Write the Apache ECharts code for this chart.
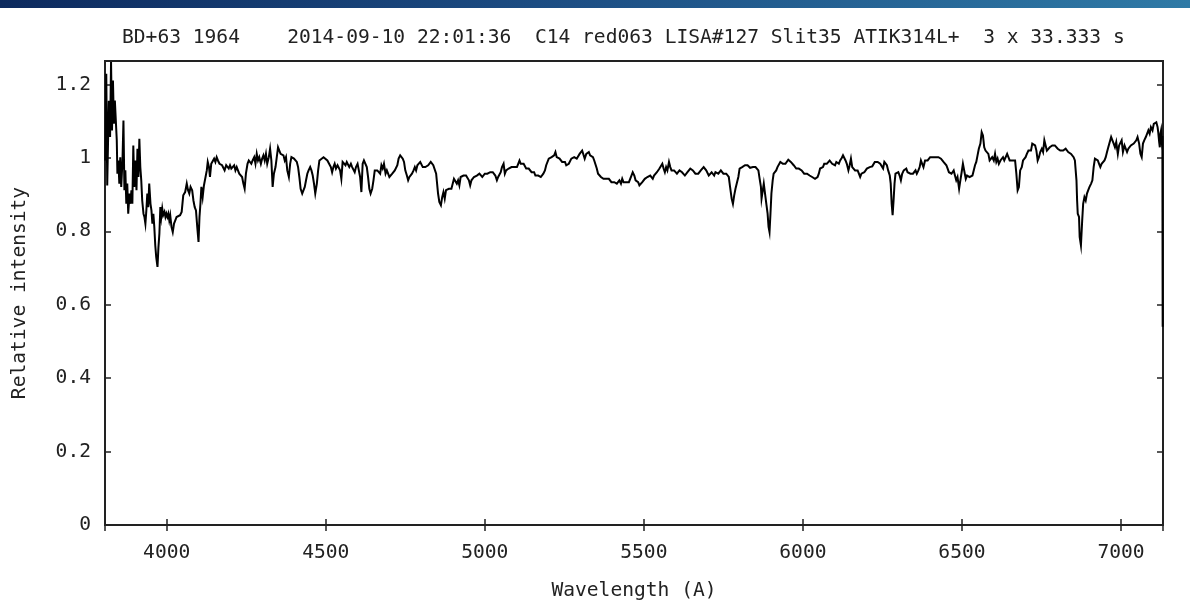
<!DOCTYPE html>
<html>
<head>
<meta charset="utf-8">
<title>BD+63 1964 spectrum</title>
<script src="https://cdn.jsdelivr.net/npm/echarts@6/dist/echarts.min.js"></script>
<style>
  html, body { margin: 0; padding: 0; background: #ffffff; }
  #chart { width: 1190px; height: 603px; }
</style>
</head>
<body>
<div id="chart"></div>
<script>
// Spectrum of BD+63 1964: [wavelength (A), relative intensity], split by region.
const specBlue = [
  [3807,0.993],[3810,1.229],[3813,0.925],[3818,1.156],[3822,1.057],[3825,1.261],[3828,1.075],[3831,1.211],
  [3834,1.093],[3837,1.156],[3840,1.102],[3843,1.048],[3845,0.957],[3848,0.993],[3851,0.930],[3854,1.002],
  [3857,0.921],[3861,0.993],[3864,1.102],[3867,0.912],[3870,0.966],[3873,0.875],[3876,0.930],[3879,0.848],
  [3883,0.903],[3886,0.875],[3889,0.912],[3892,0.875],[3895,1.034],[3898,0.921],[3901,0.993],[3905,0.912],
  [3908,1.025],[3911,0.948],[3914,1.052],[3917,0.975],[3920,0.939],[3923,0.884],[3927,0.848],[3930,0.839],
  [3933,0.821],[3936,0.857],[3939,0.903],[3942,0.866],[3945,0.930],[3949,0.875],[3952,0.857],[3955,0.821],
  [3958,0.848],[3961,0.812],[3964,0.762],[3967,0.730],[3971,0.703],[3974,0.757],[3977,0.794],[3980,0.866],
  [3983,0.839],[3986,0.862],[3989,0.844],[3993,0.853],[3996,0.839],[3999,0.848],[4002,0.839],[4005,0.848],
  [4008,0.830],[4011,0.844],[4015,0.812],[4019,0.798],[4023,0.821],[4027,0.830],[4031,0.839],[4037,0.834],
  [4042,0.844],[4047,0.853],[4052,0.898],[4058,0.907],[4063,0.930],[4067,0.912],[4071,0.903],[4075,0.921],
  [4080,0.912],[4084,0.884],[4088,0.866],[4092,0.857],[4096,0.812],[4100,0.771],[4103,0.839],[4106,0.875],
  [4109,0.921],[4113,0.893],[4117,0.925],[4122,0.930],[4126,0.966],[4129,0.989],[4133,0.975],[4136,0.948],
  [4140,0.984],[4145,0.989],[4149,0.998],[4153,0.989],[4157,1.002],[4161,0.993],[4166,0.984],[4170,0.989],
  [4174,0.980],[4178,0.975],[4182,0.966],[4187,0.980],[4191,0.975],[4195,0.971],[4199,0.980],[4203,0.971],
  [4207,0.975],[4212,0.980],[4216,0.966],[4220,0.975],[4224,0.971],[4228,0.957],[4233,0.952],[4237,0.948],
  [4241,0.930],[4245,0.916],[4249,0.957],[4254,0.984],[4258,0.993],[4262,0.998],[4266,0.984],[4270,0.993],
  [4275,1.002],[4279,0.984],[4283,1.011],[4287,0.993],[4291,1.002],[4296,0.984],[4300,0.998],[4304,1.007],
  [4308,0.993],[4312,1.011],[4316,0.984],[4321,1.002],[4325,1.025],[4329,0.993],[4333,0.921],[4337,0.957],
  [4342,0.975],[4346,1.002],[4350,1.029],[4354,1.020],[4358,1.011],[4363,1.016],[4367,1.007],[4371,0.993],
  [4375,1.002],[4379,0.966],[4384,0.948],[4388,0.984],[4392,1.002],[4396,1.007],[4400,0.998],[4405,1.002],
  [4409,0.989],[4413,0.975],[4417,0.948],[4421,0.916],[4426,0.903],[4430,0.898],[4434,0.921],[4438,0.939],
  [4442,0.957],[4446,0.966],[4451,0.975],[4455,0.966],[4459,0.952],[4463,0.930],[4467,0.903]
];

const specGreen = [
  [4472,0.930],[4476,0.966],[4480,0.993],[4486,0.993],[4493,1.002],[4499,1.002],[4505,0.993],[4511,0.993],
  [4516,0.975],[4520,0.961],[4524,0.975],[4528,0.984],[4532,0.971],[4537,0.980],[4541,0.975],[4545,0.966],
  [4549,0.943],[4553,0.989],[4558,0.993],[4562,0.980],[4566,0.989],[4570,0.984],[4574,0.975],[4579,0.984],
  [4583,0.975],[4587,0.971],[4591,0.961],[4595,0.975],[4600,0.984],[4604,0.966],[4608,0.948],[4612,0.907],
  [4616,0.984],[4620,0.993],[4625,0.993],[4629,0.975],[4633,0.948],[4637,0.916],[4641,0.903],[4646,0.916],
  [4650,0.939],[4654,0.966],[4658,0.971],[4662,0.966],[4667,0.971],[4671,0.957],[4675,0.980],[4679,0.971],
  [4683,0.984],[4688,0.957],[4692,0.966],[4696,0.957],[4700,0.948],[4704,0.952],[4709,0.957],[4713,0.957],
  [4717,0.966],[4721,0.966],[4725,0.980],[4729,0.998],[4734,1.007],[4738,1.002],[4742,0.998],[4746,0.989],
  [4750,0.966],[4755,0.952],[4759,0.939],[4763,0.948],[4767,0.948],[4771,0.957],[4776,0.966],[4780,0.975],
  [4784,0.966],[4788,0.980],[4792,0.975],[4797,0.989],[4801,0.984],[4805,0.975],[4809,0.980],[4813,0.975],
  [4818,0.975],[4822,0.980],[4826,0.984],[4830,0.989],[4834,0.989],[4838,0.980],[4843,0.975],[4847,0.957],
  [4850,0.930],[4853,0.903],[4857,0.880],[4862,0.871],[4866,0.893],[4870,0.907],[4874,0.889],[4878,0.912],
  [4883,0.916],[4887,0.916],[4891,0.916],[4895,0.916],[4899,0.921],[4903,0.943],[4908,0.948],[4912,0.930],
  [4916,0.939],[4920,0.925],[4924,0.948],[4929,0.943],[4933,0.952],[4937,0.957],[4941,0.952],[4945,0.957],
  [4950,0.939],[4954,0.925],[4958,0.939],[4962,0.943],[4966,0.948],[4971,0.948],[4975,0.952],[4979,0.948],
  [4983,0.957],[4987,0.952],[4992,0.948],[4996,0.952],[5000,0.957],[5004,0.952],[5008,0.957],[5012,0.961],
  [5017,0.961],[5021,0.966],[5025,0.961],[5029,0.966],[5033,0.952],[5038,0.939],[5042,0.948],[5046,0.952],
  [5050,0.961],[5054,0.975],[5059,0.984],[5063,0.957],[5067,0.966],[5071,0.961],[5075,0.971],[5080,0.971],
  [5084,0.975],[5088,0.971],[5092,0.975],[5096,0.980],[5101,0.975],[5105,0.984],[5109,0.993],[5113,0.984],
  [5117,0.989],[5122,0.984],[5126,0.980],[5130,0.971],[5134,0.966]
];

const specYellow = [
  [5138,0.971],[5143,0.966],[5147,0.961],[5151,0.957],[5155,0.961],[5159,0.952],[5163,0.948],[5168,0.952],
  [5172,0.948],[5176,0.948],[5180,0.952],[5184,0.957],[5189,0.966],[5193,0.980],[5197,0.984],[5201,0.998],
  [5205,0.993],[5210,1.002],[5214,0.998],[5218,1.007],[5222,1.016],[5226,1.002],[5231,1.007],[5235,0.998],
  [5239,1.002],[5243,0.989],[5247,0.984],[5252,0.989],[5256,0.980],[5260,0.975],[5264,0.984],[5268,0.989],
  [5272,0.998],[5277,0.993],[5281,1.002],[5285,1.007],[5289,0.998],[5293,1.002],[5298,1.011],[5302,1.016],
  [5306,1.020],[5310,1.016],[5314,0.998],[5319,1.011],[5323,1.007],[5327,1.016],[5331,1.007],[5335,1.011],
  [5340,1.002],[5344,0.993],[5348,0.989],[5352,0.971],[5356,0.957],[5361,0.952],[5365,0.948],[5369,0.948],
  [5373,0.943],[5377,0.948],[5382,0.943],[5386,0.948],[5390,0.943],[5394,0.939],[5398,0.934],[5402,0.939],
  [5407,0.934],[5411,0.930],[5415,0.930],[5419,0.934],[5423,0.939],[5428,0.930],[5432,0.943],[5436,0.934],
  [5440,0.930],[5444,0.934],[5449,0.930],[5453,0.934],[5457,0.939],[5461,0.952],[5465,0.961],[5470,0.952],
  [5474,0.939],[5478,0.943],[5482,0.934],[5486,0.925],[5491,0.921],[5495,0.934],[5499,0.939],[5503,0.943],
  [5507,0.939],[5511,0.948],[5516,0.943],[5520,0.952],[5524,0.957],[5528,0.943],[5532,0.952],[5537,0.957],
  [5541,0.961],[5545,0.966],[5549,0.971],[5553,0.975],[5558,0.984],[5562,0.971],[5566,0.961],[5570,0.975],
  [5574,0.966],[5579,0.989],[5583,0.975],[5587,0.966],[5591,0.971],[5595,0.966],[5600,0.961],[5604,0.957],
  [5608,0.961],[5612,0.966],[5616,0.966],[5620,0.961],[5625,0.957],[5629,0.952],[5633,0.957],[5637,0.961],
  [5641,0.966],[5646,0.971],[5650,0.975],[5654,0.966],[5658,0.961],[5662,0.957],[5667,0.952],[5671,0.957],
  [5675,0.961],[5679,0.966],[5683,0.971],[5688,0.975],[5692,0.971],[5696,0.966],[5700,0.961],[5704,0.952],
  [5709,0.957],[5713,0.961],[5717,0.966],[5721,0.952],[5725,0.961],[5730,0.966],[5734,0.957],[5738,0.961],
  [5742,0.966],[5746,0.961],[5750,0.957],[5755,0.952],[5759,0.957],[5763,0.952],[5767,0.948],[5771,0.921],
  [5776,0.889],[5780,0.875],[5784,0.898],[5788,0.916],[5792,0.930],[5797,0.948],[5801,0.971]
];

const specOrange = [
  [5805,0.966],[5809,0.975],[5813,0.975],[5818,0.980],[5822,0.984],[5826,0.980],[5830,0.977],[5834,0.973],
  [5839,0.975],[5843,0.975],[5847,0.975],[5851,0.975],[5855,0.973],[5860,0.966],[5864,0.943],[5868,0.921],
  [5870,0.889],[5874,0.884],[5877,0.930],[5882,0.930],[5885,0.875],[5889,0.848],[5892,0.812],[5895,0.798],
  [5898,0.848],[5901,0.903],[5905,0.939],[5908,0.957],[5912,0.961],[5916,0.966],[5920,0.975],[5925,0.975],
  [5929,0.989],[5933,0.984],[5937,0.984],[5941,0.989],[5945,0.984],[5950,0.989],[5954,0.995],[5958,0.993],
  [5962,0.989],[5966,0.984],[5971,0.980],[5975,0.975],[5979,0.971],[5983,0.975],[5987,0.971],[5992,0.966],
  [5996,0.966],[6000,0.961],[6004,0.957],[6008,0.961],[6013,0.957],[6017,0.955],[6021,0.952],[6025,0.950],
  [6029,0.948],[6034,0.946],[6038,0.943],[6042,0.943],[6046,0.948],[6050,0.957],[6054,0.971],[6059,0.971],
  [6063,0.975],[6067,0.984],[6071,0.989],[6075,0.984],[6080,0.989],[6084,0.993],[6088,0.989],[6092,0.984],
  [6096,0.989],[6101,0.980],[6105,0.989],[6109,0.993],[6113,0.984],[6117,0.993],[6122,1.000],[6126,1.007],
  [6130,1.002],[6134,0.993],[6138,0.984],[6143,0.966],[6147,0.980],[6151,0.998],[6155,0.975],[6159,0.975],
  [6164,0.966],[6168,0.961],[6172,0.966],[6176,0.957],[6180,0.948],[6184,0.957],[6189,0.961],[6193,0.961],
  [6197,0.966],[6201,0.971],[6205,0.966],[6210,0.975],[6214,0.971],[6218,0.977],[6222,0.980],[6226,0.989],
  [6231,0.993],[6235,0.989],[6239,0.993],[6243,0.984],[6247,0.989],[6252,0.971],[6256,0.989],[6260,0.984],
  [6264,0.980],[6268,0.966],[6273,0.952],[6276,0.930],[6279,0.875],[6282,0.844],[6285,0.884],[6288,0.930],
  [6291,0.957],[6296,0.952],[6300,0.961],[6304,0.952],[6308,0.939],[6312,0.957],[6317,0.966],[6321,0.961],
  [6325,0.971],[6329,0.961],[6333,0.966],[6338,0.957],[6342,0.961],[6346,0.957],[6350,0.961],[6354,0.966],
  [6358,0.957],[6363,0.966],[6367,0.975],[6371,0.993],[6375,0.984],[6379,0.975],[6384,0.993],[6388,0.998],
  [6392,0.993],[6396,0.998],[6400,1.002],[6405,0.998],[6409,1.002],[6413,0.998],[6417,1.002],[6421,1.004],
  [6426,1.002],[6430,1.007],[6434,0.998],[6438,0.993],[6442,0.989],[6447,0.984],[6451,0.980],[6455,0.971],
  [6459,0.961],[6463,0.957],[6467,0.957]
];

const specRed = [
  [6470,0.957],[6474,0.966],[6478,0.952],[6482,0.939],[6486,0.948],[6491,0.916],[6495,0.939],[6499,0.961],
  [6503,0.984],[6507,0.984],[6512,0.943],[6516,0.952],[6520,0.948],[6524,0.948],[6528,0.948],[6533,0.952],
  [6537,0.966],[6541,0.980],[6545,0.989],[6549,1.007],[6553,1.025],[6558,1.039],[6562,1.070],[6566,1.061],
  [6570,1.029],[6574,1.020],[6579,1.025],[6583,1.011],[6587,0.993],[6591,0.989],[6595,1.002],[6600,0.993],
  [6604,1.011],[6608,0.989],[6612,0.998],[6616,0.984],[6621,0.993],[6625,0.998],[6629,1.002],[6633,0.993],
  [6637,0.998],[6642,1.011],[6646,1.002],[6650,0.993],[6654,0.998],[6658,0.993],[6662,0.989],[6667,0.993],
  [6671,0.957],[6675,0.912],[6679,0.921],[6683,0.966],[6688,0.975],[6692,0.993],[6696,0.993],[6700,1.002],
  [6704,1.011],[6709,1.020],[6713,1.025],[6717,1.020],[6721,1.039],[6725,1.043],[6730,1.034],[6734,1.020],
  [6738,0.993],[6742,1.002],[6746,1.016],[6751,1.025],[6755,1.016],[6759,1.048],[6763,1.034],[6767,1.020],
  [6772,1.025],[6776,1.029],[6780,1.034],[6784,1.034],[6788,1.029],[6792,1.034],[6797,1.034],[6801,1.025],
  [6805,1.029],[6809,1.020],[6813,1.025],[6818,1.020],[6822,1.016],[6826,1.025],[6830,1.020],[6834,1.016],
  [6839,1.016],[6843,1.011],[6847,1.007],[6851,1.002],[6855,0.993],[6860,0.939],[6862,0.884],[6864,0.848],
  [6868,0.839],[6870,0.785],[6874,0.762],[6878,0.830],[6881,0.875],[6885,0.893],[6889,0.884],[6893,0.903],
  [6897,0.912],[6901,0.921],[6906,0.930],[6910,0.939],[6914,0.975],[6918,0.998],[6922,1.002],[6927,0.993],
  [6931,0.984],[6935,0.975],[6939,0.984],[6943,0.989],[6948,0.993],[6952,1.002],[6956,1.016],[6960,1.029],
  [6964,1.025],[6969,1.057],[6973,1.048],[6977,1.039],[6981,1.029],[6985,1.043],[6990,1.011],[6994,1.034],
  [6998,1.039],[7002,1.048],[7006,1.016],[7011,1.034],[7015,1.029],[7019,1.016],[7023,1.025],[7027,1.029],
  [7031,1.034],[7036,1.029],[7040,1.039],[7044,1.043],[7048,1.048],[7052,1.057],[7057,1.039],[7061,1.011],
  [7065,1.002],[7069,1.039],[7073,1.048],[7078,1.057],[7082,1.061],[7086,1.075],[7090,1.066],[7094,1.084],
  [7099,1.075],[7103,1.093],[7107,1.088],[7111,1.097],[7115,1.084],[7117,1.070],[7120,1.043],[7122,1.029],
  [7124,1.066],[7126,1.075],[7128,1.048],[7130,1.060],[7131,0.540]
];

// Axis ranges and labels
const xRange = [3806, 7132];
const yRange = [0, 1.264];
const yStep = 0.2;
const chartTitle = 'BD+63 1964    2014-09-10 22:01:36  C14 red063 LISA#127 Slit35 ATIK314L+  3 x 33.333 s';
const xTitle = 'Wavelength (A)';
const yTitle = 'Relative intensity';

const spectrum = [].concat(specBlue, specGreen, specYellow, specOrange, specRed);

const FONT = '"DejaVu Sans Mono", "Liberation Mono", monospace';
const INK = '#222222';
const FS = 19.6;

const chart = echarts.init(document.getElementById('chart'), null, { renderer: 'canvas' });

const tickStyle = { show: true, inside: true, length: 6, lineStyle: { color: INK, width: 1.5 } };

chart.setOption({
  animation: false,
  backgroundColor: '#ffffff',
  textStyle: { fontFamily: FONT },
  graphic: [
    {
      type: 'rect',
      left: 0, top: 0,
      shape: { width: 1190, height: 8 },
      style: {
        fill: new echarts.graphic.LinearGradient(0, 0, 1, 0, [
          { offset: 0, color: '#0d2a5e' },
          { offset: 0.45, color: '#1c4c82' },
          { offset: 1, color: '#2f7aa6' }
        ])
      },
      silent: true
    }
  ],
  title: {
    text: chartTitle,
    left: 122,
    top: 28,
    padding: 0,
    textStyle: { fontFamily: FONT, fontSize: FS, fontWeight: 'normal', color: INK }
  },
  grid: {
    left: 105, top: 61, right: 27, bottom: 78,
    outerBoundsMode: 'none',
    containLabel: false,
    show: true,
    borderColor: INK,
    borderWidth: 2,
    backgroundColor: 'transparent'
  },
  xAxis: [
    {
      type: 'value',
      min: xRange[0], max: xRange[1],
      splitNumber: 6,
      position: 'bottom',
      name: xTitle,
      nameLocation: 'middle',
      nameGap: 56,
      nameTextStyle: { fontFamily: FONT, fontSize: FS, color: INK },
      axisLine: { show: false },
      axisTick: tickStyle,
      splitLine: { show: false },
      axisLabel: {
        margin: 18, fontFamily: FONT, fontSize: FS, color: INK,
        showMinLabel: false, showMaxLabel: false,
        formatter: (v) => String(v)
      }
    },
    {
      type: 'value',
      min: xRange[0], max: xRange[1],
      splitNumber: 6,
      position: 'top',
      axisLine: { show: false },
      axisTick: tickStyle,
      splitLine: { show: false },
      axisLabel: { show: false }
    }
  ],
  yAxis: [
    {
      type: 'value',
      min: yRange[0], max: yRange[1],
      interval: yStep,
      position: 'left',
      name: yTitle,
      nameLocation: 'middle',
      nameRotate: 90,
      nameGap: 75,
      nameTextStyle: { fontFamily: FONT, fontSize: FS, color: INK },
      axisLine: { show: false },
      axisTick: tickStyle,
      splitLine: { show: false },
      axisLabel: {
        margin: 14, fontFamily: FONT, fontSize: FS, color: INK,
        showMaxLabel: false,
        formatter: (v) => String(Math.round(v * 10) / 10)
      }
    },
    {
      type: 'value',
      min: yRange[0], max: yRange[1],
      interval: yStep,
      position: 'right',
      axisLine: { show: false },
      axisTick: tickStyle,
      splitLine: { show: false },
      axisLabel: { show: false }
    }
  ],
  series: [
    {
      type: 'line',
      xAxisIndex: 0,
      yAxisIndex: 0,
      data: spectrum,
      showSymbol: false,
      symbol: 'none',
      sampling: null,
      clip: true,
      lineStyle: { color: '#000000', width: 2, join: 'miter' }
    }
  ]
});
</script>
</body>
</html>
